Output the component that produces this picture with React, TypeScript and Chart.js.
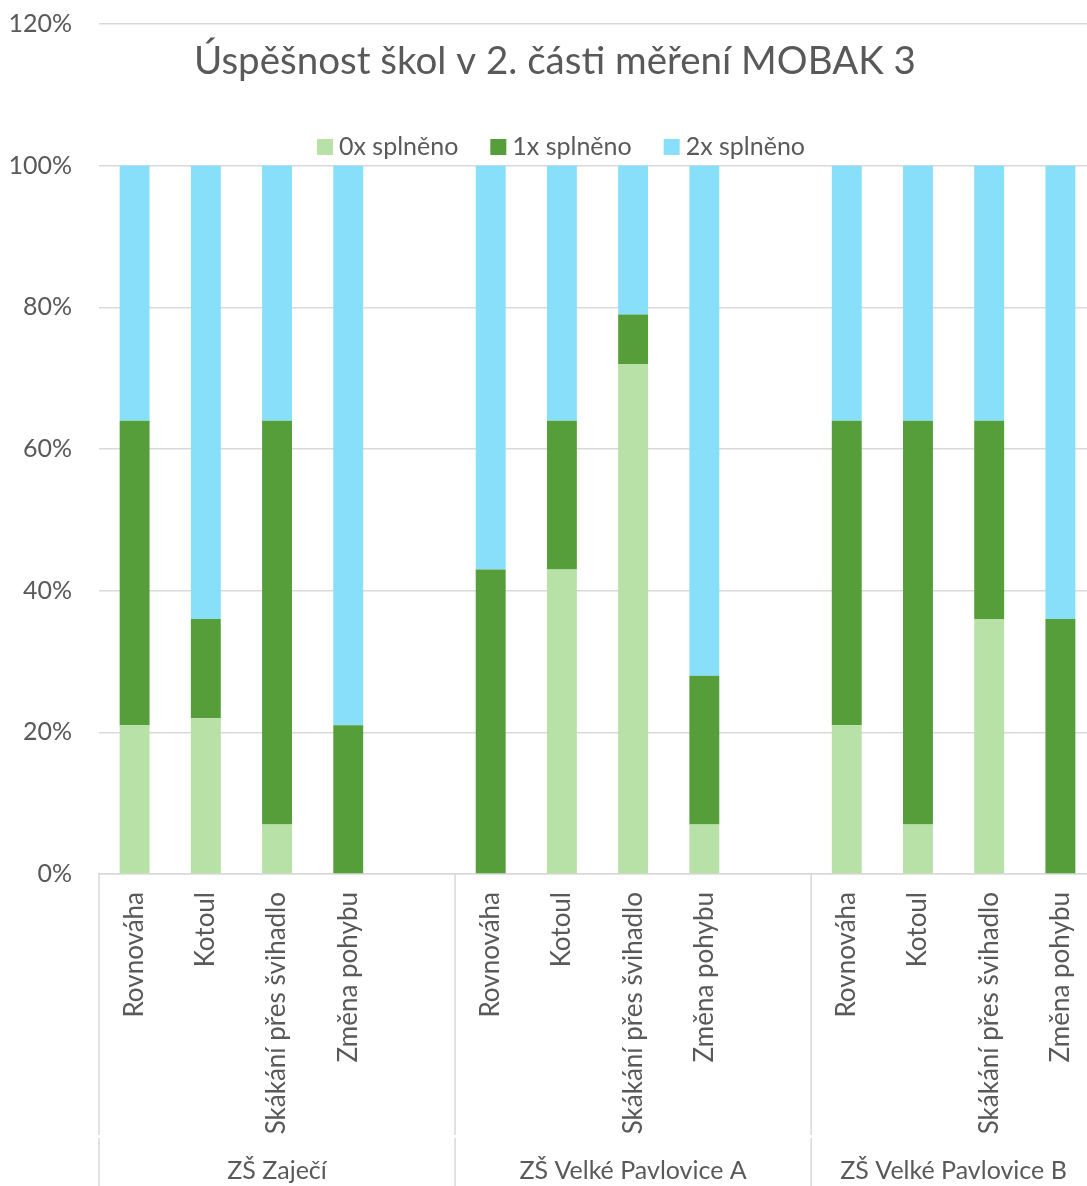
import React, { useEffect, useRef } from 'react';
import { Chart, registerables } from 'chart.js';

Chart.register(...registerables);

const chartTitle = 'Úspěšnost škol v 2. části měření MOBAK 3';
const categories = [
  'Rovnováha', 'Kotoul', 'Skákání přes švihadlo', 'Změna pohybu', '',
  'Rovnováha', 'Kotoul', 'Skákání přes švihadlo', 'Změna pohybu', '',
  'Rovnováha', 'Kotoul', 'Skákání přes švihadlo', 'Změna pohybu',
];
const groups = ['ZŠ Zaječí', 'ZŠ Velké Pavlovice A', 'ZŠ Velké Pavlovice B'];
const groupSizes = [5, 5, 4];
const seriesNames = ['0x splněno', '1x splněno', '2x splněno'];
const zeroTimes = [21, 22, 7, 0, null, 0, 43, 72, 7, null, 21, 7, 36, 0];
const oneTime = [43, 14, 57, 21, null, 43, 21, 7, 21, null, 43, 57, 28, 36];
const twoTimes = [36, 64, 36, 79, null, 57, 36, 21, 72, null, 36, 36, 36, 64];
const yMin = 0;
const yMax = 120;
const yStep = 20;

const colors = ['#B7E1A7', '#559E3A', '#87DFFA'];
const textColor = '#595959';
const lineColor = '#D9D9D9';
const FONT = 'Lato';

const overlayPlugin = {
  id: 'overlay',
  afterDraw(chart: any) {
    const ctx = chart.ctx as CanvasRenderingContext2D;
    const xs = chart.scales.x;
    const area = chart.chartArea;
    const n = categories.length;
    const slot = xs.width / n;
    ctx.save();

    // group separators and labels
    ctx.strokeStyle = lineColor;
    ctx.lineWidth = 1.5;
    ctx.fillStyle = textColor;
    ctx.font = `25px ${FONT}`;
    ctx.textAlign = 'center';
    ctx.textBaseline = 'middle';
    const bottom = chart.height;
    const levelGap = area.bottom + 261;
    const drawSep = (px: number) => {
      ctx.beginPath();
      ctx.moveTo(px, area.bottom);
      ctx.lineTo(px, levelGap);
      ctx.moveTo(px, levelGap + 3);
      ctx.lineTo(px, bottom);
      ctx.stroke();
    };
    let start = 0;
    groups.forEach((g, gi) => {
      const left = xs.getPixelForValue(start) - slot / 2;
      const right = xs.getPixelForValue(start + groupSizes[gi] - 1) + slot / 2;
      drawSep(left);
      if (gi === groups.length - 1) drawSep(right);
      ctx.fillText(g, (left + right) / 2, area.bottom + 297);
      start += groupSizes[gi];
    });

    // title
    ctx.font = `38.5px ${FONT}`;
    ctx.textAlign = 'center';
    ctx.fillText(chartTitle, chart.width / 2, 62);

    // legend
    ctx.font = `25px ${FONT}`;
    ctx.textAlign = 'left';
    const box = 16;
    const gapBoxText = 6;
    const gapItems = 32;
    const widths = seriesNames.map((s) => ctx.measureText(s).width);
    const total = widths.reduce((a, w) => a + box + gapBoxText + w, 0) + gapItems * (seriesNames.length - 1);
    let lx = 561 - total / 2;
    const ly = 147;
    seriesNames.forEach((s, i) => {
      ctx.fillStyle = colors[i];
      ctx.fillRect(lx, ly - box / 2, box, box);
      ctx.fillStyle = textColor;
      ctx.fillText(s, lx + box + gapBoxText, ly);
      lx += box + gapBoxText + widths[i] + gapItems;
    });
    ctx.restore();
  },
};

export default function App() {
  const ref = useRef<HTMLCanvasElement | null>(null);
  useEffect(() => {
    if (!ref.current) return;
    const series = [zeroTimes, oneTime, twoTimes];
    const chart = new Chart(ref.current, {
      type: 'bar',
      data: {
        labels: categories,
        datasets: series.map((d, i) => ({
          label: seriesNames[i],
          data: d,
          backgroundColor: colors[i],
          borderWidth: 0,
          barPercentage: 0.42,
          categoryPercentage: 1,
        })),
      },
      options: {
        responsive: false,
        animation: false,
        events: [],
        layout: { padding: { top: 24, right: 11, left: 0, bottom: 0 } },
        plugins: {
          legend: { display: false },
          title: { display: false },
          tooltip: { enabled: false },
        },
        scales: {
          x: {
            stacked: true,
            offset: true,
            grid: { display: false, drawTicks: false },
            border: { display: true, color: lineColor, width: 1.5 },
            ticks: {
              autoSkip: false,
              maxRotation: 90,
              minRotation: 90,
              padding: 18,
              color: textColor,
              font: { family: FONT, size: 26 },
            },
            afterFit(s: any) {
              s.height = 312;
            },
          },
          y: {
            stacked: true,
            min: yMin,
            max: yMax,
            ticks: {
              stepSize: yStep,
              callback: (v: any) => `${v}%`,
              padding: 0,
              color: textColor,
              font: { family: FONT, size: 25 },
            },
            grid: { color: lineColor, lineWidth: 1.5, drawTicks: true, tickLength: 27, tickColor: 'rgba(0,0,0,0)' },
            border: { display: false },
            afterFit(s: any) {
              s.width = 99;
            },
          },
        },
      },
      plugins: [overlayPlugin],
    } as any);
    return () => chart.destroy();
  }, []);

  return (
    <div style={{ position: 'absolute', left: 0, top: 0, width: 1087, height: 1186, overflow: 'hidden', background: '#fff' }}>
      <canvas ref={ref} width={1110} height={1186} style={{ display: 'block', width: 1110, height: 1186 }} />
    </div>
  );
}
